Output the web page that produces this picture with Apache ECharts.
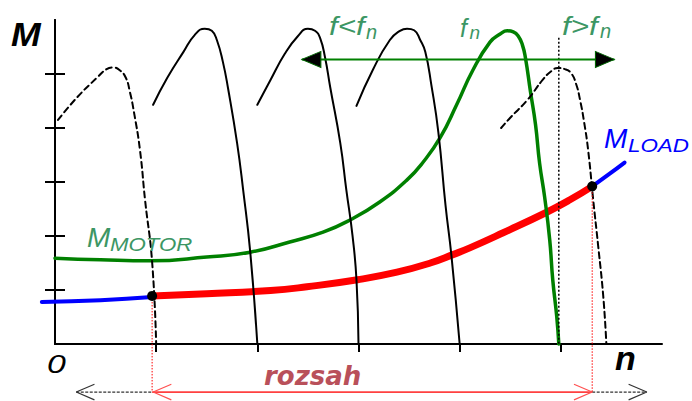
<!DOCTYPE html>
<html>
<head>
<meta charset="utf-8">
<script src="https://cdn.jsdelivr.net/npm/echarts@6/dist/echarts.min.js"></script>
<style>
  html, body { margin: 0; padding: 0; background: #fff; }
  #chart { width: 692px; height: 401px; }
</style>
</head>
<body>
<div id="chart"></div>
<script>
// Torque-speed characteristics of an induction motor fed at different frequencies.
// x = speed n, y = torque M (both in grid units, ticks at 1..5).

const tickValues = [1, 2, 3, 4, 5];

// Motor characteristics for f < fn (shifted towards lower speed)
const motorF0 = [[0.03,4.15],[0.22,4.57],[0.42,4.94],[0.51,5.09],[0.57,5.12],[0.64,5.07],[0.70,4.93],[0.74,4.67],[0.78,4.30],[0.84,3.59],[0.89,2.67],[0.96,1.52],[1.0,0]];
const motorF1 = [[0.97,4.43],[1.11,4.93],[1.27,5.41],[1.38,5.72],[1.48,5.84],[1.55,5.80],[1.60,5.63],[1.66,5.22],[1.71,4.74],[1.80,3.72],[1.86,2.85],[1.93,1.70],[2.0,0]];
const motorF2 = [[2.0,4.43],[2.13,4.89],[2.27,5.37],[2.40,5.70],[2.50,5.84],[2.57,5.80],[2.62,5.67],[2.67,5.30],[2.72,4.76],[2.82,3.72],[2.88,2.85],[2.94,2.02],[2.98,1.19],[3.0,0]];
const motorF3 = [[2.98,4.41],[3.14,5.07],[3.31,5.63],[3.41,5.80],[3.48,5.84],[3.55,5.81],[3.61,5.63],[3.66,5.41],[3.72,4.80],[3.79,3.91],[3.86,2.57],[3.92,1.61],[4.0,0]];

// Motor characteristic at rated frequency fn (M_MOTOR)
const motorRated = [[0.0,1.59],[0.45,1.56],[0.94,1.54],[1.50,1.61],[1.93,1.70],[2.32,1.89],[2.65,2.07],[2.92,2.30],[3.21,2.63],[3.48,3.04],[3.64,3.37],[3.81,3.83],[3.97,4.43],[4.13,5.07],[4.30,5.59],[4.40,5.74],[4.47,5.80],[4.53,5.78],[4.58,5.70],[4.62,5.54],[4.65,5.30],[4.70,4.67],[4.75,4.06],[4.79,3.35],[4.84,2.72],[4.89,1.93],[4.92,1.19],[4.96,0.50],[4.98,0]];

// Motor characteristic for f > fn
const motorHigh = [[4.41,4.0],[4.50,4.19],[4.67,4.52],[4.82,4.89],[4.91,5.06],[4.97,5.11],[5.04,5.09],[5.10,5.02],[5.15,4.82],[5.19,4.52],[5.23,4.11],[5.27,3.59],[5.32,2.67],[5.37,1.80],[5.42,0.87],[5.45,0]];

// Load torque M_LOAD; the middle part is the usable speed range
const loadLow = [[-0.13,0.78],[0.45,0.81],[0.96,0.87]];
const loadRange = [[0.96,0.89],[1.50,0.93],[2.13,0.99],[2.49,1.06],[2.99,1.19],[3.38,1.33],[3.71,1.50],[3.94,1.66],[4.10,1.78],[4.43,2.06],[4.86,2.44],[5.09,2.67],[5.31,2.92]];
const loadHigh = [[5.31,2.92],[5.48,3.15],[5.63,3.36]];

// Frequency arrow (f<fn ... f>fn) and the rated synchronous-speed marker
const freqArrowM = 5.27;
const freqArrowN = [2.44, 5.53];
const syncMarkN = 4.98;
const syncMarkTop = 5.67;

// Range arrow below the axis
const rangeArrowM = -0.89;
const outerArrowN = [0.21, 5.85];

const GREEN = '#008000';
const TEXT_GREEN = '#3c9664';

// plot area: one speed unit = UNIT_X px, one torque unit = 54 px
const PLOT_LEFT = 55, PLOT_TOP = 20, PLOT_W = 607, PLOT_H = 324;
const UNIT_X = PLOT_W / 6;
// the load curve starts a little left of n = 0, so it gets a wider helper grid
const LEFT_EXT = -loadLow[0][0];

function curve(data, color, width, type, extra) {
  return Object.assign({
    type: 'line', data: data, showSymbol: false, symbol: 'none',
    smooth: 0.5, clip: false, silent: true,
    lineStyle: { color: color, width: width, type: type || 'solid', cap: 'round', join: 'round' }
  }, extra || {});
}
function straight(data, color, width, type) {
  return {
    type: 'line', data: data, showSymbol: false, symbol: 'none',
    smooth: false, clip: false, silent: true,
    lineStyle: { color: color, width: width, type: type || 'solid' }
  };
}
// open arrowhead (two arms meeting at the tip); dir = +1 points right, -1 left
function chevron(tipN, tipM, dir, color) {
  const a = 0.18, b = 0.145;
  return straight([[tipN - dir * a, tipM + b], [tipN, tipM], [tipN - dir * a, tipM - b]], color, 1.2);
}

const rangeStart = loadRange[0];
const rangeEnd = loadRange[loadRange.length - 1];

const series = [
  curve(loadLow, '#0000ff', 4, 'solid', { xAxisIndex: 1, yAxisIndex: 2 }),
  curve(loadHigh, '#0000ff', 4),
  curve(loadRange, '#ff0000', 7),
  curve(motorRated, GREEN, 3.5),
  curve(motorF0, '#000', 2, [6, 4]),
  curve(motorF1, '#000', 2),
  curve(motorF2, '#000', 2),
  curve(motorF3, '#000', 2),
  curve(motorHigh, '#000', 2, [6, 4]),
  straight([[syncMarkN, syncMarkTop], [syncMarkN, 0]], '#000', 1.5, [2, 2]),
  // frequency arrow with solid heads at both ends
  {
    type: 'line', clip: false, silent: true, symbol: 'none', showSymbol: true,
    lineStyle: { color: GREEN, width: 2 },
    itemStyle: { color: '#000', borderColor: '#006400', borderWidth: 1 },
    data: [
      { value: [freqArrowN[0], freqArrowM], symbol: 'triangle', symbolSize: [16, 19], symbolRotate: 90, symbolOffset: [9.5, 0] },
      { value: [freqArrowN[1], freqArrowM], symbol: 'triangle', symbolSize: [16, 19], symbolRotate: -90, symbolOffset: [-9.5, 0] }
    ]
  },
  // range boundaries dropped to the arrow
  straight([rangeStart, [rangeStart[0], rangeArrowM]], '#ff0000', 1, [1.5, 1.5]),
  straight([rangeEnd, [rangeEnd[0], rangeArrowM]], '#ff0000', 1, [1.5, 1.5]),
  straight([[outerArrowN[0], rangeArrowM], [rangeStart[0], rangeArrowM]], '#333', 1.3, [3, 1.5]),
  straight([[rangeEnd[0], rangeArrowM], [outerArrowN[1], rangeArrowM]], '#333', 1.3, [3, 1.5]),
  straight([[rangeStart[0], rangeArrowM], [rangeEnd[0], rangeArrowM]], '#ff4040', 1.8),
  chevron(outerArrowN[0], rangeArrowM, -1, '#333'),
  chevron(outerArrowN[1], rangeArrowM, 1, '#333'),
  chevron(rangeStart[0] + 0.01, rangeArrowM, -1, '#ff5050'),
  chevron(rangeEnd[0], rangeArrowM, 1, '#ff5050'),
  // operating points where the load meets the limit characteristics
  {
    type: 'scatter', clip: false, silent: true, symbol: 'circle', symbolSize: 10, z: 10,
    itemStyle: { color: '#000', opacity: 1 },
    data: [rangeStart, rangeEnd]
  }
];

function label(x, y, text, font, fill, scaleX) {
  return {
    type: 'text', x: x, y: y, scaleX: scaleX || 1, silent: true, z: 100,
    style: { text: text, font: font, fill: fill, textAlign: 'left', verticalAlign: 'middle' }
  };
}

const SANS = '"Liberation Sans", Arial, sans-serif';
const graphic = [
  label(11, 34.2, 'M', 'italic bold 33px ' + SANS, '#000', 1.08),
  label(47, 364, '0', 'italic 26px ' + SANS, '#000', 1.3),
  label(615, 358.2, 'n', 'italic bold 34px ' + SANS, '#000'),
  label(87, 237, 'M', 'italic 28px ' + SANS, TEXT_GREEN),
  label(110, 244.6, 'MOTOR', 'italic 17.5px ' + SANS, TEXT_GREEN, 1.27),
  label(604, 138.6, 'M', 'italic 28px ' + SANS, '#0000ff'),
  label(628, 145.6, 'LOAD', 'italic 17.5px ' + SANS, '#0000ff', 1.28),
  label(329, 26.3, 'f<f', 'italic 25px ' + SANS, TEXT_GREEN, 1.25),
  label(366, 32.4, 'n', 'italic 20px ' + SANS, TEXT_GREEN),
  label(460, 28, 'f', 'italic 25px ' + SANS, TEXT_GREEN),
  label(469.5, 32, 'n', 'italic 19px ' + SANS, TEXT_GREEN),
  label(562, 26.3, 'f>f', 'italic 25px ' + SANS, TEXT_GREEN, 1.25),
  label(600, 31.4, 'n', 'italic 20px ' + SANS, TEXT_GREEN),
  label(264, 376, 'rozsah', 'italic bold 26px "DejaVu Sans", sans-serif', '#b9505a')
];

function yAxisDef(inside) {
  return {
    type: 'value', min: 0, max: 6, interval: 1, position: 'left', gridIndex: 0,
    axisLine: { show: true, onZero: false, lineStyle: { color: '#000', width: 2 } },
    axisTick: { show: true, inside: inside, length: 10, customValues: tickValues, lineStyle: { color: '#000', width: 2 } },
    axisLabel: { show: false },
    splitLine: { show: false }
  };
}
const hiddenAxis = { show: false, type: 'value', gridIndex: 1, splitLine: { show: false } };

const chart = echarts.init(document.getElementById('chart'), null, { renderer: 'svg' });
chart.setOption({
  animation: false,
  backgroundColor: '#fff',
  grid: [
    { left: PLOT_LEFT, top: PLOT_TOP, width: PLOT_W, height: PLOT_H, containLabel: false, outerBoundsMode: 'none' },
    { left: PLOT_LEFT - LEFT_EXT * UNIT_X, top: PLOT_TOP, width: PLOT_W + LEFT_EXT * UNIT_X, height: PLOT_H, containLabel: false, outerBoundsMode: 'none' }
  ],
  xAxis: [
    {
      type: 'value', min: 0, max: 6, interval: 1, gridIndex: 0,
      axisLine: { show: true, onZero: false, lineStyle: { color: '#000', width: 2 } },
      axisTick: { show: true, inside: false, length: 8, customValues: tickValues, lineStyle: { color: '#000', width: 2 } },
      axisLabel: { show: false },
      splitLine: { show: false }
    },
    Object.assign({ min: -LEFT_EXT, max: 6 }, hiddenAxis)
  ],
  yAxis: [yAxisDef(false), yAxisDef(true), Object.assign({ min: 0, max: 6 }, hiddenAxis)],
  series: series,
  graphic: graphic
});
</script>
</body>
</html>
